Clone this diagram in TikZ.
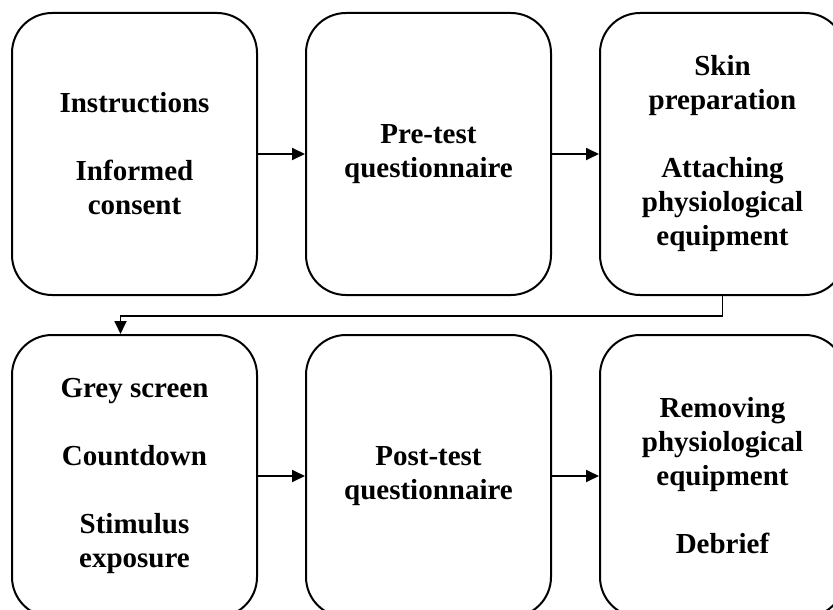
\documentclass[tikz,border=0pt]{standalone}
\usepackage{fontspec}
\setmainfont{Liberation Serif}
\usetikzlibrary{shapes,arrows.meta,positioning}

\tikzset{
  stage/.style={draw, line width=2pt, rounded corners=40pt,
    minimum width=245pt, minimum height=282pt, align=center,
    font=\fontsize{29}{34}\selectfont\bfseries},
  flow/.style={line width=1.8pt, -{Triangle[length=13pt,width=12pt]}}
}

\begin{document}
\begin{tikzpicture}[x=1pt, y=-1pt, node distance=47pt]
        \useasboundingbox (0,0) rectangle (833,610);
        % first row
        \node[stage] (instr) at (134.5,154) {Instructions\\[34pt]Informed\\consent};
        \node[stage, right=of instr] (pretest) {Pre-test\\questionnaire};
        \node[stage, right=of pretest] (skin) {Skin\\preparation\\[34pt]Attaching\\physiological\\equipment};
        % second row
        \node[stage, below=38pt of instr] (grey) {Grey screen\\[34pt]Countdown\\[34pt]Stimulus\\exposure};
        \node[stage, right=of grey] (posttest) {Post-test\\questionnaire};
        \node[stage, right=of posttest] (removing) {Removing\\physiological\\equipment\\[34pt]Debrief};
        % connectors
        \draw[flow] (instr) -- (pretest);
        \draw[flow] (pretest) -- (skin);
        \draw[flow] (skin.south) -- ++(0,20) -| ([xshift=-14pt]grey.north);
        \draw[flow] (grey) -- (posttest);
        \draw[flow] (posttest) -- (removing);
      \end{tikzpicture}
\end{document}
